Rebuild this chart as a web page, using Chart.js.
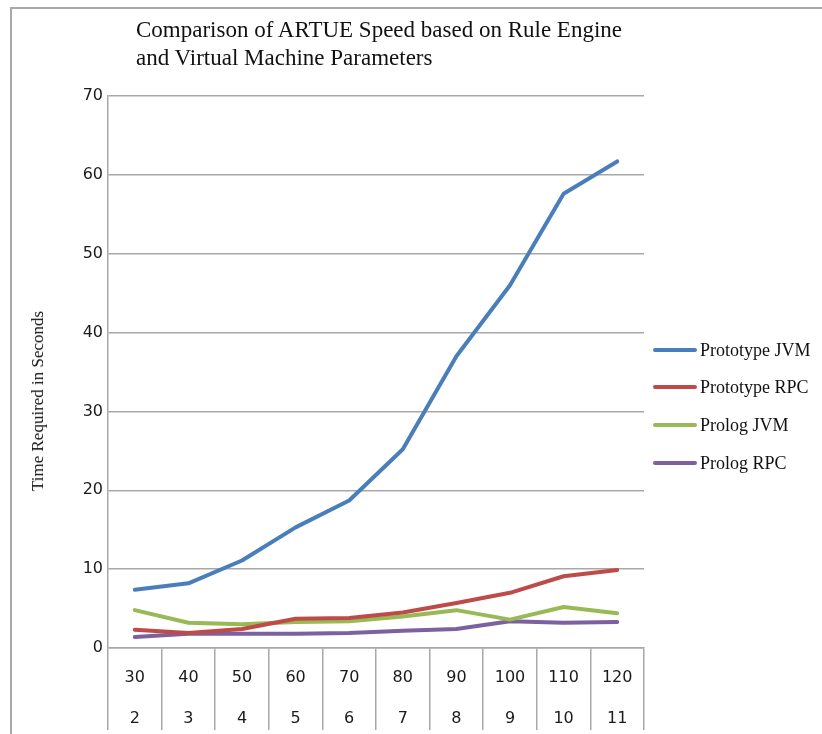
<!DOCTYPE html>
<html>
<head>
<meta charset="utf-8">
<script src="https://cdn.jsdelivr.net/npm/chart.js@4/dist/chart.umd.min.js"></script>
<style>
  html, body { margin: 0; padding: 0; background: #fff; }
  #wrap { position: relative; width: 822px; height: 734px; overflow: hidden; background: #fff; }
  #frame { position: absolute; left: 10px; top: 7px; width: 830px; height: 740px;
           border-top: 2px solid #a8a8a8; border-left: 2px solid #a8a8a8; }
  #title { position: absolute; left: 136px; top: 16px; font-family: 'Liberation Serif', serif;
           font-size: 23px; line-height: 28px; color: #111; white-space: nowrap; }
  #ytitle { position: absolute; left: 38px; top: 401px; transform: translate(-50%, -50%) rotate(-90deg);
            font-family: 'Liberation Serif', serif; font-size: 17px; color: #111; white-space: nowrap; }
  #legend { position: absolute; left: 653px; top: 0; }
  .li { position: absolute; left: 0; height: 24px; width: 170px; }
  .li .sw { position: absolute; left: 0; top: 10px; width: 44px; height: 4px; border-radius: 2px; }
  .li .tx { position: absolute; left: 47px; top: 0; font-family: 'Liberation Serif', serif;
            font-size: 18px; line-height: 24px; color: #111; white-space: nowrap; }
  canvas { position: absolute; left: 0; top: 0; }
</style>
</head>
<body>
<div id="wrap">
  <div id="frame"></div>
  <canvas id="c" width="822" height="734"></canvas>
  <div id="title">Comparison of ARTUE Speed based on Rule Engine<br>and Virtual Machine Parameters</div>
  <div id="ytitle">Time Required in Seconds</div>
  <div id="legend"></div>
</div>
<script>
// Category labels (two rows: rules / parameters)
const rulesRow = ['30', '40', '50', '60', '70', '80', '90', '100', '110', '120'];
const paramRow = ['2', '3', '4', '5', '6', '7', '8', '9', '10', '11'];

// Series values (seconds)
const prototypeJVM = [7.4, 8.2, 11.1, 15.3, 18.7, 25.2, 37.0, 46.0, 57.6, 61.7];
const prototypeRPC = [2.3, 1.9, 2.4, 3.7, 3.8, 4.5, 5.7, 7.0, 9.1, 9.9];
const prologJVM    = [4.8, 3.2, 3.0, 3.3, 3.4, 4.0, 4.8, 3.6, 5.2, 4.4];
const prologRPC    = [1.4, 1.8, 1.8, 1.8, 1.9, 2.2, 2.4, 3.4, 3.2, 3.3];

const seriesNames = ['Prototype JVM', 'Prototype RPC', 'Prolog JVM', 'Prolog RPC'];
const seriesColors = ['#4A7EBB', '#BE4B48', '#98B954', '#7D60A0'];

// Y tick values
const yMin = 0, yMax = 70, yStep = 10;

const labels = rulesRow.map((r, i) => [r, paramRow[i]]);
const seriesData = [prototypeJVM, prototypeRPC, prologJVM, prologRPC];

const datasets = seriesData.map((d, i) => ({
  label: seriesNames[i],
  data: d,
  borderColor: seriesColors[i],
  backgroundColor: seriesColors[i],
  borderWidth: 4,
  pointRadius: 0,
  pointHoverRadius: 0,
  tension: 0,
  borderCapStyle: 'round',
  borderJoinStyle: 'round',
  fill: false
}));

const gridColor = '#a8a8a8';

new Chart(document.getElementById('c'), {
  type: 'line',
  data: { labels, datasets },
  options: {
    responsive: false,
    animation: false,
    layout: { padding: { left: 0, top: 96, right: 178, bottom: 0 } },
    plugins: {
      legend: { display: false },
      title: { display: false },
      tooltip: { enabled: false }
    },
    scales: {
      x: {
        type: 'category',
        offset: true,
        afterFit: (s) => { s.height = 86; },
        grid: {
          offset: true,
          drawOnChartArea: false,
          drawTicks: true,
          tickLength: 82,
          color: gridColor,
          lineWidth: 1.5
        },
        border: { display: true, color: gridColor, width: 1.5 },
        ticks: {
          autoSkip: false,
          maxRotation: 0,
          minRotation: 0,
          padding: -72.5,
          color: '#1a1a1a',
          font: { family: 'DejaVu Sans', size: 16, lineHeight: '41px' }
        }
      },
      y: {
        min: yMin,
        max: yMax,
        afterFit: (s) => { s.width = 108; },
        grid: { drawTicks: false, color: gridColor, lineWidth: 1.5 },
        border: { display: true, color: gridColor, width: 1.5 },
        ticks: {
          stepSize: yStep,
          padding: 5,
          color: '#1a1a1a',
          font: { family: 'DejaVu Sans', size: 16 }
        }
      }
    }
  }
});

// Legend built from the series
const legendTops = [338, 375, 413, 451];
const lg = document.getElementById('legend');
seriesNames.forEach((n, i) => {
  const d = document.createElement('div');
  d.className = 'li';
  d.style.top = legendTops[i] + 'px';
  d.innerHTML = '<div class="sw" style="background:' + seriesColors[i] + '"></div><div class="tx">' + n + '</div>';
  lg.appendChild(d);
});
</script>
</body>
</html>
